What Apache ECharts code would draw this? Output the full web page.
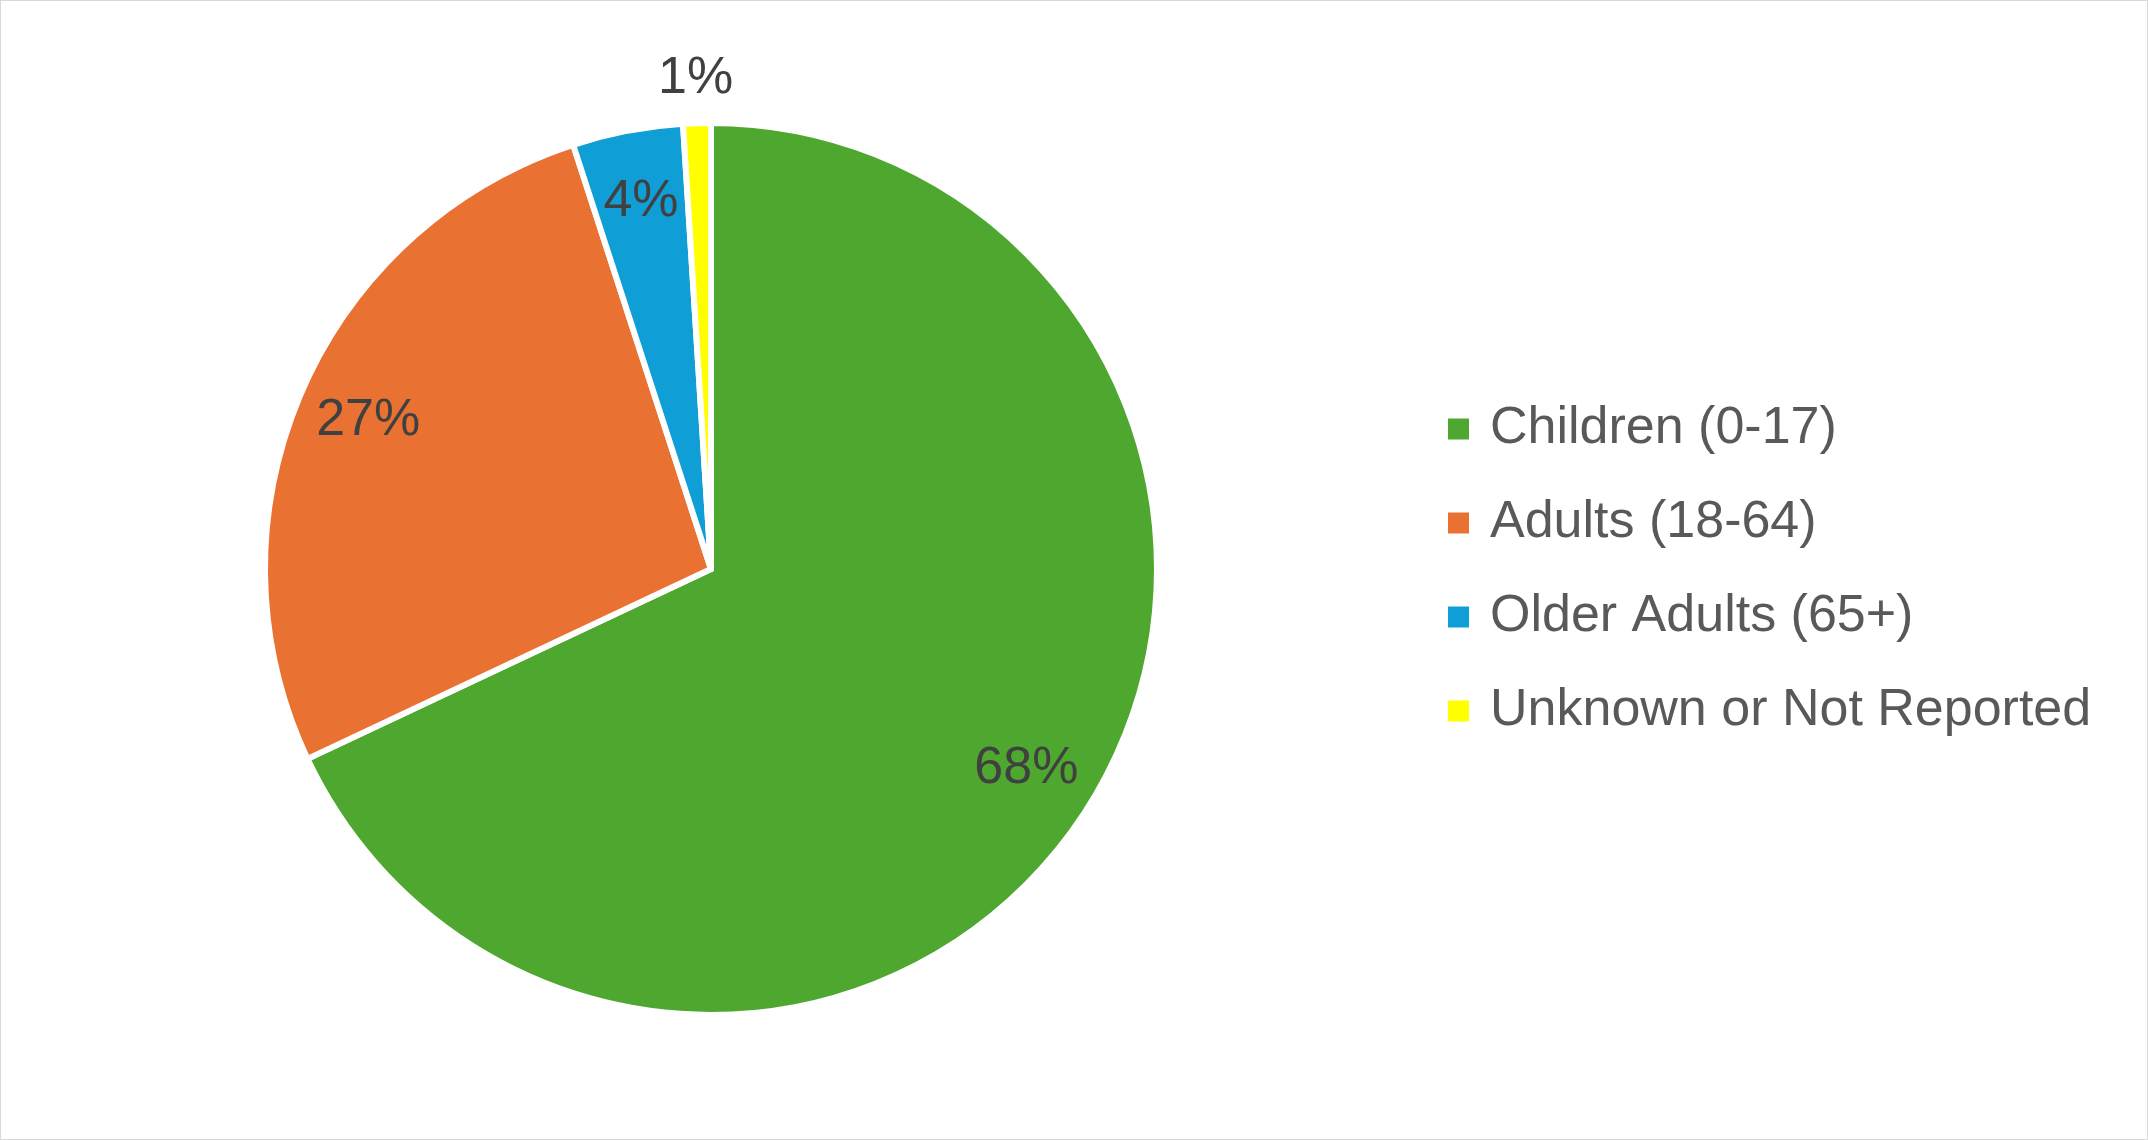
<!DOCTYPE html>
<html>
<head>
<meta charset="utf-8">
<script src="https://cdn.jsdelivr.net/npm/echarts@6/dist/echarts.min.js"></script>
<style>
html,body{margin:0;padding:0;background:#fff;}
#chart{position:absolute;left:0;top:0;width:2146px;height:1138px;border:1px solid #d9d9d9;}
</style>
</head>
<body>
<div id="chart"></div>
<script>
// 数据
var categories = ['Children (0-17)', 'Adults (18-64)', 'Older Adults (65+)', 'Unknown or Not Reported'];
var values = [68, 27, 4, 1];
var colors = ['#4EA72E', '#E97132', '#0F9ED5', '#FFFF00'];

var pieData = [];
var innerLabels = [];
var outerLabels = [];
for (var i = 0; i < categories.length; i++) {
	pieData.push({name: categories[i], value: values[i], itemStyle: {color: colors[i]}});
	// 最小的扇区标签放到饼外
	var small = (i == categories.length - 1);
	innerLabels.push({name: categories[i], value: values[i], label: {show: !small}});
	outerLabels.push({name: categories[i], value: values[i], label: {show: small}});
}

var labelStyle = {position: 'inside', formatter: '{c}%', fontFamily: 'Liberation Sans', fontSize: 52, color: '#404040'};

var option = {
	animation: false,
	legend: {
		orient: 'vertical',
		left: 1445,
		top: 398,
		padding: 0,
		itemWidth: 23,
		itemHeight: 23,
		itemGap: 34,
		icon: 'rect',
		data: categories,
		textStyle: {fontFamily: 'Liberation Sans', fontSize: 52, color: '#595959', lineHeight: 60, padding: [0, 0, 0, 15]}
	},
	series: [
		{
			name: 'main',
			type: 'pie',
			center: [710, 568],
			radius: 446,
			startAngle: 90,
			clockwise: true,
			label: {show: false},
			labelLine: {show: false},
			itemStyle: {borderColor: '#fff', borderWidth: 6},
			emphasis: {disabled: true},
			data: pieData
		},
		{
			// 只用来放标签
			name: 'labels',
			type: 'pie',
			center: [710, 568],
			radius: [295, 446],
			startAngle: 90,
			silent: true,
			legendHoverLink: false,
			itemStyle: {color: 'rgba(0,0,0,0)'},
			label: labelStyle,
			labelLine: {show: false},
			emphasis: {disabled: true},
			data: innerLabels
		},
		{
			name: 'outerLabels',
			type: 'pie',
			center: [710, 568],
			radius: [446, 530],
			startAngle: 90,
			silent: true,
			legendHoverLink: false,
			itemStyle: {color: 'rgba(0,0,0,0)'},
			label: labelStyle,
			labelLine: {show: false},
			emphasis: {disabled: true},
			data: outerLabels
		}
	]
};

var myChart = echarts.init(document.getElementById('chart'));
myChart.setOption(option);
</script>
</body>
</html>
